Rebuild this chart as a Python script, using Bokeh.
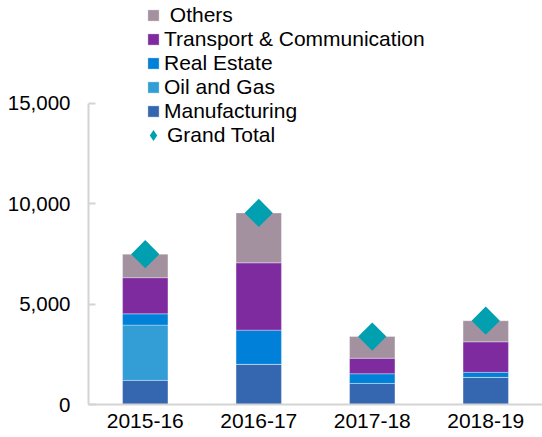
import math
from bokeh.plotting import figure
from bokeh.models import (ColumnDataSource, FactorRange, Range1d, Legend, LegendItem,
                          FixedTicker, NumeralTickFormatter)
from bokeh.embed import file_html
from bokeh.resources import INLINE

categories = ["2015-16", "2016-17", "2017-18", "2018-19"]
manufacturing = [1200, 2000, 1050, 1350]
oil_gas = [2750, 0, 0, 0]
real_estate = [560, 1700, 480, 250]
transport = [1800, 3350, 770, 1520]
others = [1170, 2480, 1080, 1050]
grand_total = [7480, 9530, 3380, 4170]
y_ticks = [0, 5000, 10000, 15000]

series = ["manufacturing", "oil_gas", "real_estate", "transport", "others"]
labels = ["Manufacturing", "Oil and Gas", "Real Estate", "Transport & Communication", " Others"]
colors = ["#3566B0", "#339DD6", "#0080D8", "#7F2BA0", "#A391A0"]

source = ColumnDataSource(dict(categories=categories, manufacturing=manufacturing,
                               oil_gas=oil_gas, real_estate=real_estate,
                               transport=transport, others=others,
                               grand_total=grand_total))

FONT = "Liberation Sans"

p = figure(width=542, height=437, x_range=FactorRange(*categories, range_padding=0),
           y_range=Range1d(0, 20100), output_backend="svg", toolbar_location=None,
           min_border_left=88, min_border_right=0, min_border_top=0, min_border_bottom=33)
p.outline_line_color = None
p.background_fill_color = "white"
p.border_fill_color = "white"
p.xgrid.visible = False
p.ygrid.visible = False

bars = p.vbar_stack(series, x="categories", width=0.4, source=source, color=colors,
                    line_color="white", line_alpha=0.4, line_width=0.8)

tot = p.scatter(x="categories", y="grand_total", source=source, marker="square",
                size=20, angle=math.pi / 4, fill_color="#00A0B0", line_color=None)

# hidden twin of the Grand Total markers, used only for the legend glyph
tot_legend = p.scatter(x="categories", y="grand_total", source=source, marker="diamond",
                       fill_color="#00A0B0", line_color=None, visible=False)

# axes
ya = p.yaxis[0]
ya.ticker = FixedTicker(ticks=y_ticks)
ya.formatter = NumeralTickFormatter(format="0,0")
ya.bounds = (0, 15000)
ya.axis_line_color = "#D4D4D4"
ya.axis_line_width = 2
ya.major_tick_line_color = "#D4D4D4"
ya.major_tick_line_width = 2
ya.major_tick_in = 7
ya.major_tick_out = 0
ya.minor_tick_line_color = None
ya.major_label_standoff = 18
ya.major_label_text_font = FONT
ya.major_label_text_font_size = "20.5px"
ya.major_label_text_color = "#000000"

xa = p.xaxis[0]
xa.axis_line_color = "#D4D4D4"
xa.axis_line_width = 2
xa.major_tick_line_color = None
xa.major_tick_in = 0
xa.major_tick_out = 0
xa.major_label_standoff = 9
xa.major_label_text_font = FONT
xa.major_label_text_font_size = "21px"
xa.major_label_text_color = "#000000"

items = [LegendItem(label=labels[i], renderers=[bars[i]]) for i in [4, 3, 2, 1, 0]]
leg1 = Legend(items=items, location=(58, 281), orientation="vertical",
              glyph_width=14, glyph_height=14, label_height=23, spacing=0,
              label_standoff=4, padding=0, margin=0,
              border_line_color=None, background_fill_alpha=0,
              label_text_font=FONT, label_text_font_size="21px",
              label_text_color="#000000")
leg2 = Legend(items=[LegendItem(label="Grand Total", renderers=[tot_legend])], location=(51, 255),
              glyph_width=28, glyph_height=28, label_height=23, spacing=0,
              label_standoff=-3, padding=0, margin=0,
              border_line_color=None, background_fill_alpha=0,
              label_text_font=FONT, label_text_font_size="21px",
              label_text_color="#000000")
p.add_layout(leg1, "center")
p.add_layout(leg2, "center")

open("out.html", "w").write(file_html(p, INLINE))
